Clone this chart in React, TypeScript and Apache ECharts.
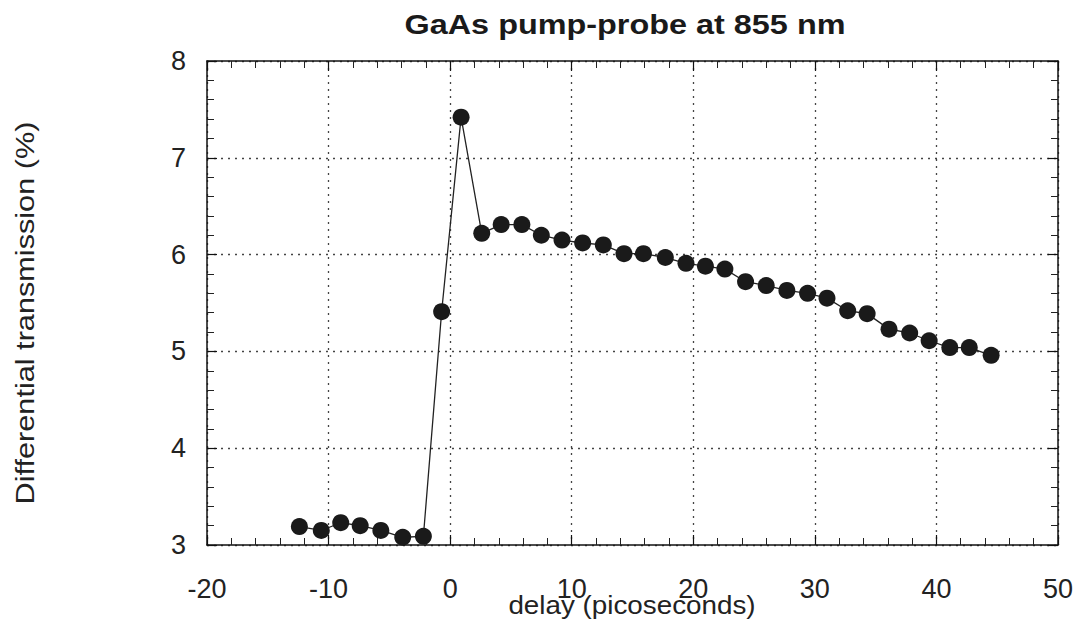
import React, { useEffect, useRef } from "react";
import * as echarts from "echarts";

const delays = [
  -12.4, -10.6, -9.0, -7.4, -5.7, -3.9, -2.2, -0.7, 0.9, 2.6, 4.2, 5.9, 7.5, 9.2, 10.9,
  12.6, 14.3, 15.9, 17.7, 19.4, 21.0, 22.6, 24.3, 26.0, 27.7, 29.4, 31.0, 32.7, 34.3,
  36.1, 37.8, 39.4, 41.1, 42.7, 44.5,
];
const transmission = [
  3.19, 3.15, 3.23, 3.2, 3.15, 3.08, 3.09, 5.41, 7.42, 6.22, 6.31, 6.31, 6.2, 6.15, 6.12,
  6.1, 6.01, 6.01, 5.97, 5.91, 5.88, 5.85, 5.72, 5.68, 5.63, 5.6, 5.55, 5.42, 5.39, 5.23,
  5.19, 5.11, 5.04, 5.04, 4.96,
];
const xTicks = { min: -20, max: 50, interval: 10 };
const yTicks = { min: 3, max: 8, interval: 1 };
const titleText = "GaAs pump-probe at 855 nm";
const xName = "delay (picoseconds)";
const yName = "Differential transmission (%)";

const FONT = "Liberation Sans, Arial, sans-serif";

export default function App() {
  const ref = useRef<HTMLDivElement>(null);
  useEffect(() => {
    if (!ref.current) return;
    const chart = echarts.init(ref.current, null, { renderer: "svg" });
    const axisLine = { show: true, onZero: false, lineStyle: { color: "#111", width: 1.5 } };
    const tick = { show: true, inside: true, length: 10, lineStyle: { color: "#111", width: 1.2 } };
    const minor = { show: true, splitNumber: 5, length: 7, lineStyle: { color: "#222", width: 1 } };
    const grid = { show: true, lineStyle: { color: "#444", type: [2, 5], width: 1.3 } };
    chart.setOption({
      animation: false,
      backgroundColor: "#fff",
      grid: { left: 207, top: 61, width: 851, height: 484 },
      xAxis: [
        {
          type: "value",
          position: "bottom",
          min: xTicks.min,
          max: xTicks.max,
          interval: xTicks.interval,
          axisLine,
          axisTick: tick,
          minorTick: minor,
          splitLine: grid,
          axisLabel: { fontFamily: FONT, fontSize: 27, color: "#222", margin: 30 },
        },
        {
          type: "value",
          position: "top",
          min: xTicks.min,
          max: xTicks.max,
          interval: xTicks.interval,
          axisLine,
          axisTick: tick,
          minorTick: minor,
          splitLine: { show: false },
          axisLabel: { show: false },
        },
      ],
      yAxis: [
        {
          type: "value",
          position: "left",
          min: yTicks.min,
          max: yTicks.max,
          interval: yTicks.interval,
          axisLine,
          axisTick: tick,
          minorTick: minor,
          splitLine: grid,
          axisLabel: { fontFamily: FONT, fontSize: 27, color: "#222", margin: 21 },
        },
        {
          type: "value",
          position: "right",
          min: yTicks.min,
          max: yTicks.max,
          interval: yTicks.interval,
          axisLine,
          axisTick: tick,
          minorTick: minor,
          splitLine: { show: false },
          axisLabel: { show: false },
        },
      ],
      graphic: [
        {
          type: "text",
          x: 625,
          y: 24,
          scaleX: 1.2,
          style: {
            text: titleText,
            fontFamily: FONT,
            fontSize: 27,
            fontWeight: "bold",
            fill: "#1a1a1a",
            align: "center",
            verticalAlign: "middle",
          },
        },
        {
          type: "text",
          x: 632,
          y: 605,
          scaleX: 1.07,
          style: {
            text: xName,
            fontFamily: FONT,
            fontSize: 26,
            fill: "#222",
            align: "center",
            verticalAlign: "middle",
          },
        },
        {
          type: "text",
          x: 25,
          y: 313,
          rotation: Math.PI / 2,
          scaleX: 1.18,
          style: {
            text: yName,
            fontFamily: FONT,
            fontSize: 26,
            fill: "#222",
            align: "center",
            verticalAlign: "middle",
          },
        },
      ],
      series: [
        {
          type: "line",
          xAxisIndex: 0,
          yAxisIndex: 0,
          data: delays.map((d, i) => [d, transmission[i]]),
          symbol: "circle",
          symbolSize: 17,
          itemStyle: { color: "#1a1a1a" },
          lineStyle: { color: "#222", width: 1.3 },
        },
      ],
    });
    return () => chart.dispose();
  }, []);
  return (
    <div
      ref={ref}
      style={{ position: "fixed", left: 0, top: 0, width: 1091, height: 640 }}
    />
  );
}
